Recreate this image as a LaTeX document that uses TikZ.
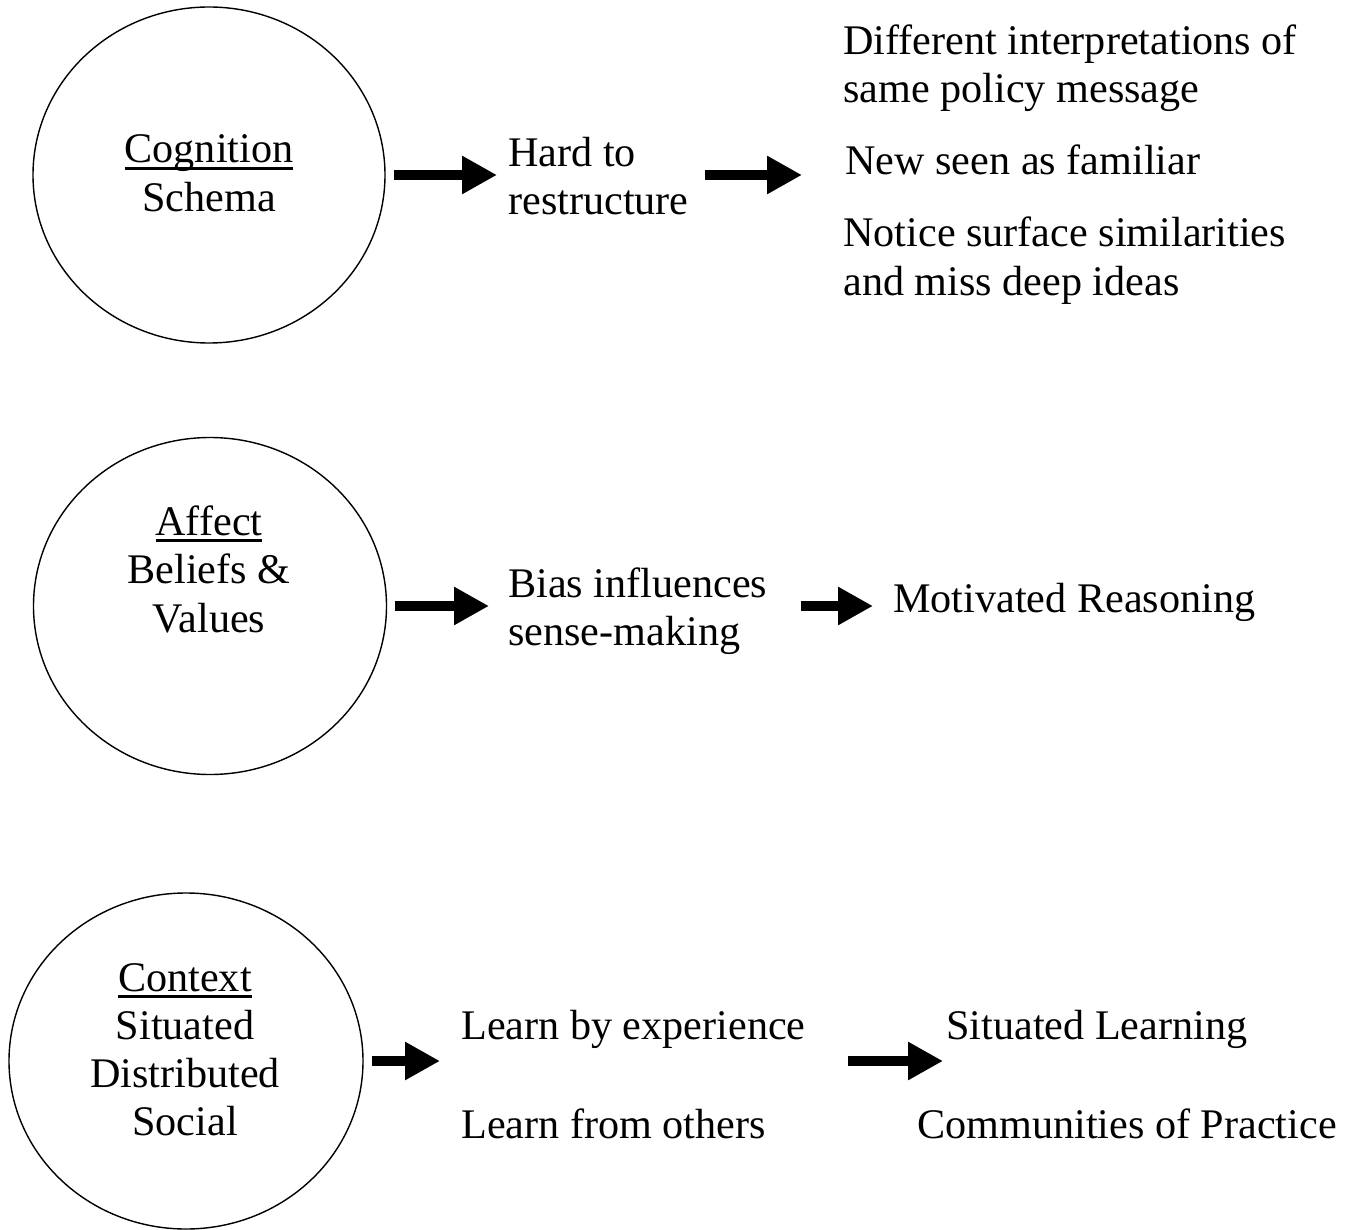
\documentclass[tikz,border=0pt]{standalone}
\usepackage{fontspec}
\setmainfont{Liberation Serif}
\usetikzlibrary{shapes.geometric,arrows.meta}

% word with a fixed-depth underline
\newcommand{\ulword}[1]{\setbox0\hbox{#1}\rlap{\rule[-0.14cm]{\wd0}{0.055cm}}\box0}

\begin{document}
\begin{tikzpicture}[
    font=\fontsize{24pt}{28pt}\selectfont,
    bubble/.style={draw, ellipse, line width=0.8pt, inner sep=0pt},
    ctr/.style={inner sep=0pt, anchor=base},
    txt/.style={inner sep=0pt, anchor=base west},
    blk/.style={line width=0.2cm, -{Triangle[length=0.7cm, width=0.72cm]}}
  ]
  \useasboundingbox (0,0) rectangle (27.22,-24.6);

  % -------- top: cognition --------
  \node[bubble, minimum width=7.04cm, minimum height=6.72cm] (cog) at (4.18,-3.5) {};
  \node[ctr] (cogA) at (4.18,-3.26) {\ulword{Cognition}};
  \node[ctr] (cogB) at (4.18,-4.24) {Schema};

  \node[txt] (hardA) at (10.16,-3.34) {Hard to};
  \node[txt] (hardB) at (10.16,-4.30) {restructure};

  \node[txt] (difA) at (16.86,-1.10) {Different interpretations of};
  \node[txt] (difB) at (16.86,-2.06) {same policy message};
  \node[txt] (newA) at (16.90,-3.50) {New seen as familiar};
  \node[txt] (notA) at (16.86,-4.94) {Notice surface similarities};
  \node[txt] (notB) at (16.86,-5.92) {and miss deep ideas};

  \draw[blk, shorten <=0.16cm, shorten >=0.22cm] (cog.east) -- (hardA.west |- cog.east);
  \draw[blk, shorten <=0.32cm, shorten >=0.86cm] (hardB.east |- cog.east) -- (newA.west |- cog.east);

  % -------- middle: affect --------
  \node[bubble, minimum width=7.06cm, minimum height=6.74cm] (aff) at (4.2,-12.12) {};
  \node[ctr] (affA) at (4.18,-10.70) {\ulword{Affect}};
  \node[ctr] (affB) at (4.18,-11.66) {Beliefs \&};
  \node[ctr] (affC) at (4.18,-12.64) {Values};

  \node[txt] (biasA) at (10.16,-11.94) {Bias influences};
  \node[txt] (biasB) at (10.16,-12.90) {sense-making};

  \node[txt] (motiv) at (17.86,-12.24) {Motivated Reasoning};

  \draw[blk, shorten <=0.15cm, shorten >=0.38cm] (aff.east) -- (biasA.west |- aff.east);
  \draw[blk, shorten <=0.66cm, shorten >=0.40cm] (biasA.east |- aff.east) -- (motiv.west |- aff.east);

  % -------- bottom: context --------
  \node[bubble, minimum width=7.08cm, minimum height=6.72cm] (ctx) at (3.72,-21.22) {};
  \node[ctr] (ctxA) at (3.70,-19.82) {\ulword{Context}};
  \node[ctr] (ctxB) at (3.70,-20.78) {Situated};
  \node[ctr] (ctxC) at (3.70,-21.74) {Distributed};
  \node[ctr] (ctxD) at (3.70,-22.70) {Social};

  \node[txt] (lrnA) at (9.22,-20.78) {Learn by experience};
  \node[txt] (lrnB) at (9.22,-22.76) {Learn from others};

  \node[txt] (sitA) at (18.92,-20.78) {Situated Learning};
  \node[txt] (comA) at (18.34,-22.76) {Communities of Practice};

  \draw[blk, shorten <=0.16cm, shorten >=0.42cm] (ctx.east) -- (lrnA.west |- ctx.east);
  \draw[blk, shorten <=0.84cm, shorten >=0.06cm] (lrnA.east |- ctx.east) -- (sitA.west |- ctx.east);
\end{tikzpicture}
\end{document}
